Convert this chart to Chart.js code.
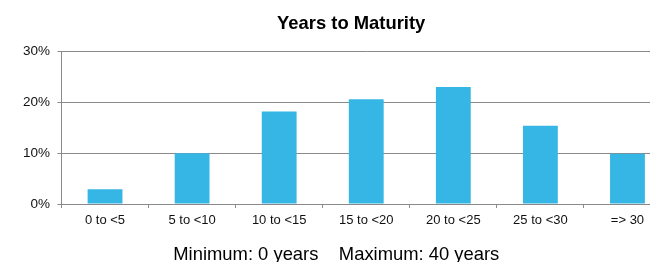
<!DOCTYPE html>
<html>
<head>
<meta charset="utf-8">
<script src="https://cdn.jsdelivr.net/npm/chart.js@4.4.1/dist/chart.umd.min.js"></script>
<style>
  html, body { margin: 0; padding: 0; background: #fff; overflow: hidden; width: 650px; height: 262px; }
  #wrap { position: relative; width: 700px; height: 262px; }
</style>
</head>
<body>
<div id="wrap"><canvas id="c" width="700" height="262"></canvas></div>
<script>
const categories = ["0 to <5", "5 to <10", "10 to <15", "15 to <20", "20 to <25", "25 to <30", "=> 30"];
const shares = [2.9, 10.0, 18.2, 20.6, 23.0, 15.4, 9.9];
const yTicks = [0, 10, 20, 30];
const titleText = "Years to Maturity";
const footerText = "Minimum: 0 years    Maximum: 40 years";

const FONT = "'Liberation Sans', Arial, sans-serif";
const GRID = "#8a8a8a";

const textPlugin = {
  id: "texts",
  afterDraw(chart) {
    const ctx = chart.ctx;
    ctx.save();
    ctx.fillStyle = "#000";
    ctx.textBaseline = "alphabetic";
    ctx.font = "bold 18.4px " + FONT;
    ctx.textAlign = "center";
    ctx.fillText(titleText, 351.2, 29);
    ctx.font = "18.4px " + FONT;
    ctx.textAlign = "left";
    ctx.fillText(footerText, 173.3, 260);
    ctx.restore();
  }
};

new Chart(document.getElementById("c"), {
  type: "bar",
  data: {
    labels: categories,
    datasets: [{
      data: shares,
      backgroundColor: "#35b6e4",
      borderWidth: 0,
      categoryPercentage: 0.8,
      barPercentage: 0.5
    }]
  },
  options: {
    responsive: false,
    animation: false,
    events: [],
    layout: { padding: { left: 0, right: 29, top: 51.5, bottom: 0 } },
    plugins: { legend: { display: false }, tooltip: { enabled: false }, title: { display: false } },
    scales: {
      x: {
        offset: true,
        grid: { display: true, drawOnChartArea: false, drawTicks: true, tickLength: 4, color: GRID, offset: true },
        border: { display: true, color: GRID, width: 1 },
        ticks: { color: "#111", font: { family: FONT, size: 13 }, padding: 5, maxRotation: 0, autoSkip: false },
        afterFit(scale) { scale.height = 58; }
      },
      y: {
        min: 0,
        max: 30,
        afterBuildTicks(scale) { scale.ticks = yTicks.map(v => ({ value: v })); },
        grid: { color: GRID, drawTicks: true, tickLength: 4, lineWidth: 1 },
        border: { display: true, color: GRID, width: 1 },
        ticks: { color: "#111", font: { family: FONT, size: 13.5 }, padding: 7.5, callback: v => v + "%" },
        afterFit(scale) { scale.width = 61.5; }
      }
    }
  },
  plugins: [textPlugin]
});
</script>
</body>
</html>
